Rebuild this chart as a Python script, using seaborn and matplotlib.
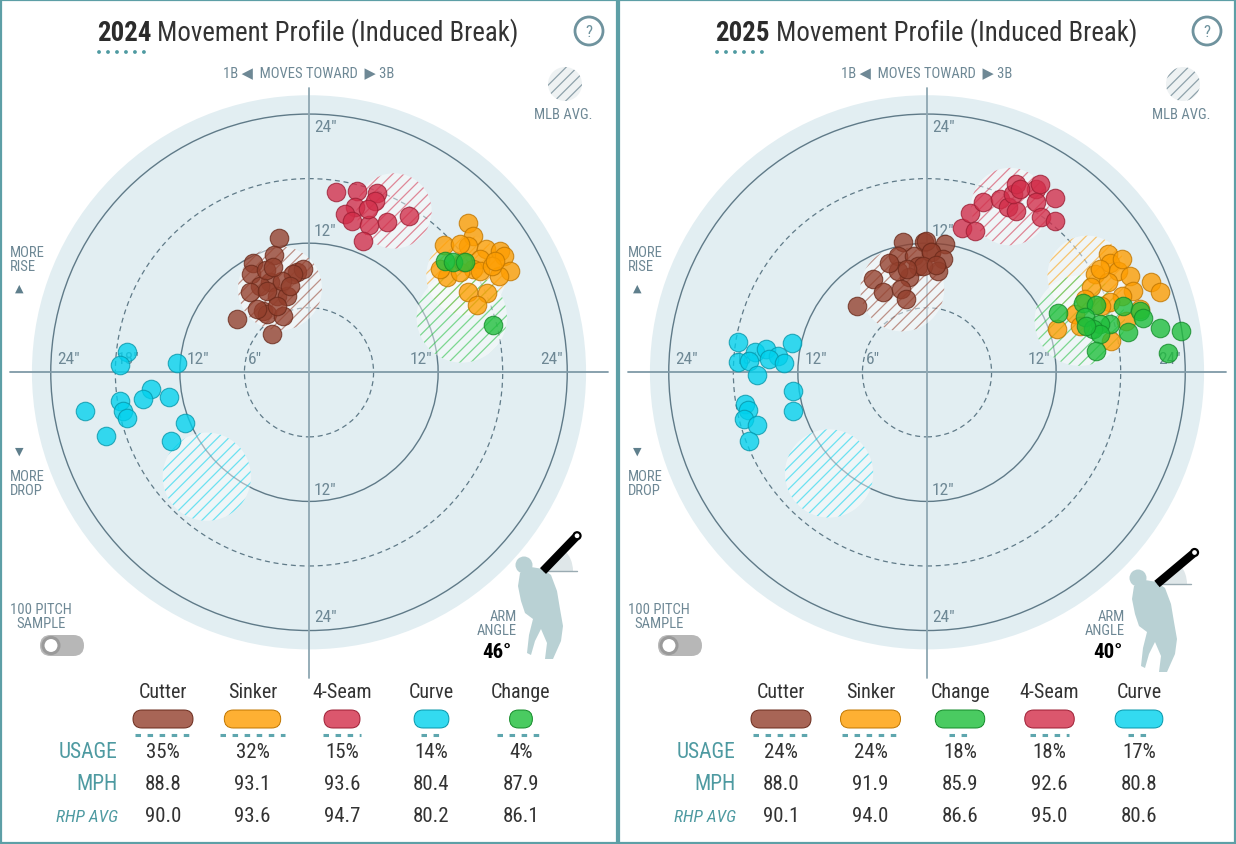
import numpy as np
import pandas as pd
import matplotlib
matplotlib.use("Agg")
import matplotlib.pyplot as plt
import seaborn as sns
from matplotlib.patches import Circle, FancyBboxPatch, Rectangle, Polygon, Wedge
from matplotlib import font_manager as fm

# ---------------------------------------------------------------- data 2024
pitches_2024 = ["Cutter", "Sinker", "4-Seam", "Curve", "Change"]
usage_2024 = [35, 32, 15, 14, 4]
mph_2024 = [88.8, 93.1, 93.6, 80.4, 87.9]
rhp_avg_2024 = [90.0, 93.6, 94.7, 80.2, 86.1]
arm_angle_2024 = 46
underline_2024 = [7, 8, 5, 3, 6]
mlb_avg_x_2024 = [-2.7, 14.6, 7.9, -9.5, 14.2]
mlb_avg_y_2024 = [7.8, 9.0, 15.0, -9.7, 5.1]
mlb_avg_r_2024 = [3.9, 3.7, 3.5, 4.1, 4.2]

cutter_2024_x = [-2.76, -3.22, -5.23, -5.39, -1.14, -0.53, -1.46, -3.62, -4.55, -5.48, -3.00, -2.07,
                 -3.93, -4.25, -3.93, -2.39, -6.72, -3.47, -3.00, -4.86, -2.50, -4.00, -1.80, -3.30]
cutter_2024_y = [12.45, 10.93, 10.16, 9.14, 9.29, 9.60, 9.14, 8.36, 8.05, 7.43, 7.12, 7.12,
                 7.58, 5.72, 5.42, 5.26, 4.95, 3.56, 6.19, 5.88, 8.50, 9.50, 8.00, 9.80]
fourseam_2024_x = [2.51, 4.43, 6.35, 6.13, 4.28, 3.35, 3.97, 5.60, 7.28, 9.32, 4.99, 5.51]
fourseam_2024_y = [16.78, 16.88, 16.63, 15.95, 15.33, 14.71, 14.09, 13.69, 14.00, 14.50, 12.23, 15.18]
sinker_2024_x = [14.81, 15.21, 12.55, 14.81, 16.45, 17.75, 18.12, 15.89, 15.27, 15.89, 18.68,
                 17.69, 12.80, 14.03, 14.81, 16.51, 15.58, 12.17, 14.34, 16.98, 14.03, 17.29]
sinker_2024_y = [13.88, 12.70, 11.83, 11.71, 11.46, 11.30, 10.84, 10.53, 9.60, 9.44, 9.44,
                 8.92, 8.83, 9.29, 7.43, 7.34, 6.28, 9.60, 10.22, 9.91, 11.92, 10.34]
curve_2024_x = [-16.94, -17.57, -12.24, -14.65, -15.40, -12.98, -17.57, -17.26, -16.94, -20.79,
                -18.87, -11.50, -12.85]
curve_2024_y = [1.92, 0.68, 0.86, -1.55, -2.48, -2.27, -2.64, -3.57, -4.28, -3.63, -5.95, -4.71, -6.36]
change_2024_x = [12.64, 13.35, 14.50, 17.13]
change_2024_y = [10.37, 10.28, 10.28, 4.42]

# ---------------------------------------------------------------- data 2025
pitches_2025 = ["Cutter", "Sinker", "Change", "4-Seam", "Curve"]
usage_2025 = [24, 24, 18, 18, 17]
mph_2025 = [88.0, 91.9, 85.9, 92.6, 80.8]
rhp_avg_2025 = [90.1, 94.0, 86.6, 95.0, 80.6]
arm_angle_2025 = 40
underline_2025 = [7, 7, 3, 5, 3]
mlb_avg_x_2025 = [-2.3, 14.9, 14.2, 7.7, -9.1]
mlb_avg_y_2025 = [7.7, 9.0, 4.8, 15.4, -9.4]
mlb_avg_r_2025 = [3.9, 3.7, 4.2, 3.6, 4.1]

cutter_2025_x = [-2.26, -0.24, -2.72, -1.17, 0.37, -0.86, -1.64, -2.72, -5.05, -4.12, -2.42,
                 -1.95, -6.51, -0.06, 1.64, 0.41, 1.49, 1.02, -0.37, -3.50, -1.90, 0.80]
cutter_2025_y = [12.14, 12.08, 10.78, 10.84, 11.15, 9.91, 8.83, 9.44, 8.67, 7.43, 7.74,
                 6.81, 6.19, 12.23, 11.92, 11.15, 10.53, 9.44, 9.91, 10.20, 9.60, 10.00]
fourseam_2025_x = [3.29, 4.43, 4.03, 5.20, 6.76, 7.53, 8.31, 7.99, 8.31, 10.17, 10.47, 11.87,
                   10.17, 10.63, 11.87, 8.62]
fourseam_2025_y = [13.38, 13.16, 14.80, 15.80, 16.11, 15.33, 15.02, 16.57, 17.50, 17.04, 17.50,
                   16.17, 15.80, 14.40, 14.09, 17.04]
sinker_2025_x = [16.82, 16.98, 15.59, 17.75, 18.84, 16.82, 15.28, 19.14, 20.79, 21.69, 18.16,
                 16.98, 13.73, 12.08, 14.19, 17.14, 18.53, 16.21, 16.05, 18.10, 14.70, 19.75]
sinker_2025_y = [10.99, 10.16, 9.14, 9.44, 8.98, 8.36, 7.90, 7.58, 8.42, 7.43, 7.12,
                 6.51, 5.42, 4.02, 4.33, 2.94, 4.80, 6.19, 9.60, 10.50, 6.80, 5.90]
change_2025_x = [12.20, 14.52, 15.68, 14.69, 18.22, 19.77, 20.08, 16.98, 16.05, 15.46, 16.05,
                 18.68, 21.63, 23.64, 15.74, 22.40, 14.81]
change_2025_y = [5.51, 6.44, 6.28, 5.17, 6.19, 5.73, 5.02, 4.49, 4.49, 4.02, 3.56,
                 3.72, 4.09, 3.81, 1.95, 1.77, 4.33]
curve_2025_x = [-17.53, -12.57, -16.01, -14.96, -13.88, -14.65, -13.25, -17.53, -16.51, -15.80,
                -12.48, -12.42, -16.88, -16.66, -16.97, -15.83, -16.57]
curve_2025_y = [2.84, 2.69, 1.92, 2.17, 1.54, 1.24, 0.86, 0.99, 1.08, -0.25,
                -1.71, -3.63, -2.95, -3.47, -4.34, -4.90, -6.36]

ring_values = [6, 12, 18, 24]

# ---------------------------------------------------------------- style
sns.set_theme(style="white")
avail = {f.name for f in fm.fontManager.ttflist}
base_font = next(f for f in ["Roboto Condensed", "Liberation Sans Narrow", "Roboto", "DejaVu Sans"]
                 if f in avail)
plt.rcParams["font.family"] = [base_font, "DejaVu Sans"]
plt.rcParams["hatch.linewidth"] = 0.9

COLORS = {"Cutter": "#933F2C", "Sinker": "#FE9D00", "4-Seam": "#D22D49",
          "Curve": "#00D1ED", "Change": "#1DBE3A"}
EDGES = {"Cutter": "#6a2a1b", "Sinker": "#c07600", "4-Seam": "#9c1d33",
         "Curve": "#0796aa", "Change": "#138a29"}
GRAY = "#6e8895"
TEAL = "#4e9aa1"
DISC = "#e2eef2"
RING = "#5f7a88"

PX = 10.76           # pixels per inch of break
CX, CY = 309.0, 373.3
W, H = 618, 845


def P(px, py):
    return ((px - CX) / PX, (CY - py) / PX)


def L(p):
    return p / PX


fig = plt.figure(figsize=(12.36, 8.45), dpi=100)
fig.patch.set_facecolor("white")


def draw_panel(ax, year, pitches, usage, mph, rhp, avg_x, avg_y, avg_r, underline,
               points, arm_angle, shoulder, arm_text_x, deg_x):
    ax.set_xlim((0 - CX) / PX, (W - CX) / PX)
    ax.set_ylim((CY - H) / PX, CY / PX)
    ax.set_aspect("equal")
    ax.axis("off")

    # disc + rings
    ax.add_patch(Circle((0, 0), 25.75, fc=DISC, ec="none", zorder=0))
    for r in ring_values:
        dashed = r in (6, 18)
        ax.add_patch(Circle((0, 0), r, fill=False, ec=RING, lw=0.9 if dashed else 1.0,
                            ls=(0, (4, 3)) if dashed else "-", zorder=1))
    x0, _ = P(10, 0)
    x1, _ = P(608, 0)
    ax.plot([x0, x1], [0, 0], color="#7f9aa7", lw=1.3, zorder=2)
    _, y0 = P(0, 89)
    _, y1 = P(0, 679)
    ax.plot([0, 0], [y0, y1], color="#8ea7b2", lw=1.3, zorder=2)

    lab = dict(color=GRAY, fontsize=12.5, va="center", ha="left", zorder=3)
    ring_labels = [('24"', 314, 128), ('12"', 314, 232), ('6"', 248, 360), ('12"', 187, 360),
                   ('18"', 117, 360), ('24"', 57, 360), ('12"', 410, 360), ('24"', 540, 360),
                   ('12"', 314, 491), ('24"', 314, 618)]
    for s, px, py in ring_labels:
        ax.text(*P(px, py), s, **lab)

    # MLB average areas
    for p, ax_, ay_, ar_ in zip(pitches, avg_x, avg_y, avg_r):
        ax.add_patch(Circle((ax_, ay_), ar_, fc=(1, 1, 1, 0.45), ec="none", zorder=3))
        ax.add_patch(Circle((ax_, ay_), ar_, fill=False, hatch="///",
                            ec=matplotlib.colors.to_rgba(COLORS[p], 0.55), lw=0, zorder=3))

    # pitches
    plot_order = ["Cutter", "4-Seam", "Sinker", "Curve", "Change"]
    for p in plot_order:
        xs, ys = points[p]
        df = pd.DataFrame({"x": xs, "y": ys})
        sns.scatterplot(data=df, x="x", y="y", color=COLORS[p], edgecolor=EDGES[p],
                        linewidth=0.8, s=178, alpha=0.78, legend=False, ax=ax, zorder=5)
    ax.set_xlim((0 - CX) / PX, (W - CX) / PX)
    ax.set_ylim((CY - H) / PX, CY / PX)
    ax.axis("off")

    # title
    t1 = ax.text(*P(97, 41), str(year), fontsize=18, fontweight="bold", color="#2b2b2b",
                 ha="left", va="baseline")
    t2 = ax.annotate(" Movement Profile (Induced Break)", xy=(1, 0), xycoords=t1,
                     fontsize=18, color="#333333", ha="left", va="bottom")
    dx0, dy = P(99, 53)
    dx1, _ = P(151, 53)
    ax.plot([dx0, dx1], [dy, dy], color=TEAL, lw=2.8, dashes=(0.01, 2.3),
            dash_capstyle="round", zorder=3)

    # help icon
    ax.add_patch(Circle(P(589, 32), L(14), fc="white", ec="#6f939e", lw=2, zorder=3))
    ax.text(*P(589, 33), "?", ha="center", va="center", color="#6f939e", fontsize=12, zorder=4)

    # direction text
    ax.text(*P(309, 73), "1B \u25c0  MOVES TOWARD  \u25b6 3B", ha="center", va="center",
            color=GRAY, fontsize=10.5)

    # MLB AVG legend
    ax.add_patch(Circle(P(565, 85), L(17), fc="#eef2f3", ec="none", zorder=3))
    ax.add_patch(Circle(P(565, 85), L(17), fill=False, hatch="///", ec="#8ea2ab", lw=0, zorder=3))
    ax.text(*P(563, 115), "MLB AVG.", ha="center", va="center", color=GRAY, fontsize=10.5)

    # rise / drop
    ax.text(*P(10, 260), "MORE\nRISE", ha="left", va="center", color=GRAY, fontsize=10.5,
            linespacing=1.05)
    ax.text(*P(19, 289), "\u25b2", ha="center", va="center", color="#5f7f8c", fontsize=8)
    ax.text(*P(19, 452), "\u25bc", ha="center", va="center", color="#5f7f8c", fontsize=8)
    ax.text(*P(10, 484), "MORE\nDROP", ha="left", va="center", color=GRAY, fontsize=10.5,
            linespacing=1.05)

    # 100 pitch sample toggle
    ax.text(*P(41, 617), "100 PITCH\nSAMPLE", ha="center", va="center", color=GRAY,
            fontsize=10.5, linespacing=1.05)
    tx, ty = P(40, 657)
    ax.add_patch(FancyBboxPatch((tx, ty), L(44), L(21),
                                boxstyle=f"round,pad=0,rounding_size={L(10.5)}",
                                fc="#b7b7b7", ec="none", zorder=3))
    ax.add_patch(Circle(P(51, 646.5), L(8), fc="white", ec="#9a9a9a", lw=2.2, zorder=4))

    # arm angle figure
    sx, sy = shoulder
    body = [(-23, 2), (-12, -4), (0, -2), (8, 4), (14, 20), (17, 38), (20, 55), (18, 70),
            (10, 88), (2, 88), (4, 72), (-2, 58), (-8, 70), (-12, 84), (-16, 82), (-14, 64),
            (-10, 48), (-18, 42), (-22, 30), (-25, 15)]
    ax.add_patch(Polygon([P(sx + a, sy + b) for a, b in body], closed=True,
                         fc="#b9d1d4", ec="none", zorder=3))
    ax.add_patch(Circle(P(sx - 19, sy - 6), L(8.5), fc="#b9d1d4", ec="none", zorder=3))
    ax.add_patch(Wedge(P(sx, sy), L(30), 0, arm_angle, fc="#dfe7e9", ec="none", zorder=3))
    ax.plot([P(sx, sy)[0], P(sx + 34, sy)[0]], [P(sx, sy)[1]] * 2, color="#9aabb2",
            lw=1, zorder=4)
    ang = np.deg2rad(arm_angle)
    ex, ey = sx + 47 * np.cos(ang), sy - 47 * np.sin(ang)
    ax.plot([P(sx, sy)[0], P(ex, ey)[0]], [P(sx, sy)[1], P(ex, ey)[1]], color="black",
            lw=6, solid_capstyle="butt", zorder=5)
    ax.add_patch(Circle(P(ex + 2 * np.cos(ang), ey - 2 * np.sin(ang)), L(3.5), fc="white",
                        ec="black", lw=1.6, zorder=6))
    ax.text(*P(arm_text_x, 624), "ARM\nANGLE", ha="right", va="center", color=GRAY,
            fontsize=10.5, linespacing=1.05)
    ax.text(*P(deg_x, 652), f"{arm_angle}\u00b0", ha="center", va="center", color="black",
            fontsize=15, fontweight="bold")

    # table
    col_x = [163 + 89.5 * i for i in range(5)]
    umax = max(usage)
    for i, p in enumerate(pitches):
        cx = col_x[i]
        ax.text(*P(cx, 693), p, ha="center", va="center", color="#333333", fontsize=14.5)
        w = 18 + 42 * usage[i] / umax
        bx, by = P(cx - w / 2, 729)
        ax.add_patch(FancyBboxPatch((bx, by), L(w), L(18),
                                    boxstyle=f"round,pad=0,rounding_size={L(9)}",
                                    fc=matplotlib.colors.to_rgba(COLORS[p], 0.8),
                                    ec=EDGES[p], lw=0.7, zorder=3))
        n = underline[i]
        span = (n - 1) * 8.7
        ux0, uy = P(cx - span / 2 - 2, 735.5)
        ux1, _ = P(cx + span / 2 + 2, 735.5)
        ax.plot([ux0, ux1], [uy, uy], color="#5ea6ae", lw=2.2, dashes=(1.8, 2.15), zorder=3)
        ax.text(*P(cx, 752), f"{usage[i]}%", ha="center", va="center", color="#333333",
                fontsize=15)
        ax.text(*P(cx, 785), f"{mph[i]:.1f}", ha="center", va="center", color="#333333",
                fontsize=15)
        ax.text(*P(cx, 817), f"{rhp[i]:.1f}", ha="center", va="center", color="#333333",
                fontsize=15)
    ax.text(*P(118, 752), "USAGE", ha="right", va="center", color=TEAL, fontsize=15.5)
    ax.text(*P(118, 785), "MPH", ha="right", va="center", color=TEAL, fontsize=15.5)
    ax.text(*P(118, 817), "RHP AVG", ha="right", va="center", color=TEAL, fontsize=12.5,
            style="italic")
    return t1, t2


ax1 = fig.add_axes([0, 0, 0.5, 1])
ax2 = fig.add_axes([0.5, 0, 0.5, 1])

pts_2024 = {"Cutter": (cutter_2024_x, cutter_2024_y), "Sinker": (sinker_2024_x, sinker_2024_y),
            "4-Seam": (fourseam_2024_x, fourseam_2024_y), "Curve": (curve_2024_x, curve_2024_y),
            "Change": (change_2024_x, change_2024_y)}
pts_2025 = {"Cutter": (cutter_2025_x, cutter_2025_y), "Sinker": (sinker_2025_x, sinker_2025_y),
            "4-Seam": (fourseam_2025_x, fourseam_2025_y), "Curve": (curve_2025_x, curve_2025_y),
            "Change": (change_2025_x, change_2025_y)}

titles = []
titles.append(draw_panel(ax1, 2024, pitches_2024, usage_2024, mph_2024, rhp_avg_2024,
                         mlb_avg_x_2024, mlb_avg_y_2024, mlb_avg_r_2024, underline_2024,
                         pts_2024, arm_angle_2024, (543, 572), 517, 497))
titles.append(draw_panel(ax2, 2025, pitches_2025, usage_2025, mph_2025, rhp_avg_2025,
                         mlb_avg_x_2025, mlb_avg_y_2025, mlb_avg_r_2025, underline_2025,
                         pts_2025, arm_angle_2025, (539, 585), 507, 490))

# fit title width to reference (~423 px)
fig.canvas.draw()
r = fig.canvas.get_renderer()
for t1, t2 in titles:
    w = t1.get_window_extent(r).width + t2.get_window_extent(r).width
    fs = 18 * 423 / w
    fs = min(fs, 20)
    t1.set_fontsize(fs)
    t2.set_fontsize(fs)

# panel frames
for x0 in (1, 619):
    fig.add_artist(Rectangle((x0 / 1236, 1 / 845), 616 / 1236, 843 / 845, fill=False,
                             ec="#5d9fa6", lw=1.6, transform=fig.transFigure))

fig.savefig("out.png", dpi=100, facecolor="white")
